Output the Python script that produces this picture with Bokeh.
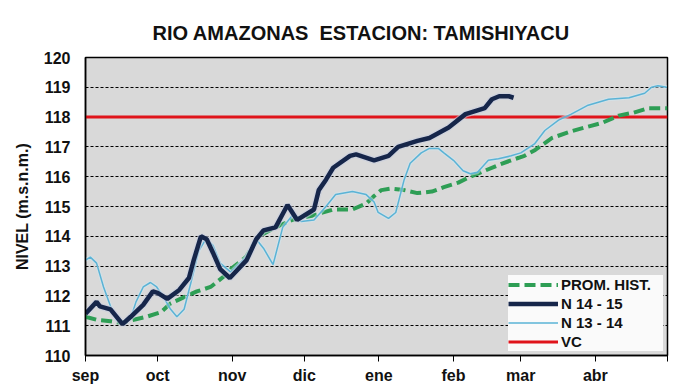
from bokeh.plotting import figure
from bokeh.models import FixedTicker, Legend, LegendItem, Range1d
from bokeh.embed import file_html
from bokeh.resources import INLINE

# ---- data (x = days since 1 Sep) ----
title_text = "RIO AMAZONAS\u00a0 ESTACION: TAMISHIYACU"
month_ticks = [0, 30, 61, 91, 122, 153, 181, 212, 242]
month_labels = ["sep", "oct", "nov", "dic", "ene", "feb", "mar", "abr", ""]

prom_days = [0, 4.6, 10.4, 14.6, 20, 25.4, 31.3, 35.4, 40.8, 46.3, 52, 57.5, 60.4, 66.7, 72, 79, 86,
             94.6, 103, 111, 116.7, 120, 123, 127, 132.5, 138, 144, 149, 155, 160, 166, 172, 177,
             182.5, 187, 194, 201, 207.5, 214.6, 221.7, 228, 234, 242]
prom_vals = [111.3, 111.2, 111.15, 111.1, 111.2, 111.3, 111.45, 111.75, 111.95, 112.15, 112.3, 112.65,
             112.9, 113.3, 114.0, 114.3, 114.55, 114.7, 114.9, 114.9, 115.1, 115.35, 115.55, 115.6,
             115.55, 115.45, 115.5, 115.65, 115.8, 116.0, 116.2, 116.4, 116.55, 116.7, 116.9, 117.3,
             117.5, 117.65, 117.8, 118.05, 118.15, 118.3, 118.3]

n1415_days = [0, 4.6, 6, 10.4, 15.4, 18.8, 24, 28, 30, 34, 39, 43, 45, 48, 50.4, 53, 56, 60, 67, 71,
              74, 79, 84, 88, 95, 97, 100, 103, 110, 112.5, 120, 126, 130, 138, 143, 151, 158, 166,
              169, 172, 176, 178]
n1415_vals = [111.4, 111.8, 111.65, 111.55, 111.05, 111.3, 111.7, 112.15, 112.1, 111.9, 112.2, 112.6,
              113.2, 114.0, 113.9, 113.45, 112.9, 112.6, 113.2, 113.9, 114.2, 114.3, 115.05, 114.55,
              114.9, 115.55, 115.9, 116.3, 116.7, 116.75, 116.55, 116.7, 117.0, 117.2, 117.3, 117.65,
              118.1, 118.3, 118.6, 118.7, 118.7, 118.65]

n1314_days = [0, 2, 4.6, 7.5, 10.4, 13, 16, 19, 21, 24, 27, 29.6, 32.5, 35.4, 38, 41, 44, 47, 50, 53,
              56, 60.4, 66.7, 71, 74, 78, 82, 86, 89.6, 95, 100, 104, 111, 116.7, 120, 121.7, 126,
              129, 132.5, 135, 139.6, 143, 146.7, 149, 153, 157, 160, 163, 167.5, 171.7, 177, 181,
              186.7, 191, 196.7, 202, 209, 217.5, 226, 232.5, 235.4, 238, 241.7]
n1314_vals = [113.2, 113.3, 113.1, 112.3, 111.65, 111.2, 111.1, 111.3, 111.8, 112.3, 112.45, 112.3,
              111.95, 111.55, 111.3, 111.55, 112.5, 113.5, 113.9, 113.7, 113.1, 112.8, 113.3, 113.9,
              113.6, 113.05, 114.3, 114.7, 114.5, 114.55, 115.0, 115.4, 115.5, 115.4, 115.15, 114.8,
              114.6, 114.8, 115.9, 116.45, 116.8, 116.95, 116.95, 116.8, 116.55, 116.2, 116.1, 116.15,
              116.55, 116.6, 116.7, 116.8, 117.1, 117.55, 117.9, 118.1, 118.4, 118.6, 118.65, 118.8,
              119.0, 119.05, 119.0]

vc_days = [0, 242]
vc_vals = [118, 118]

y_ticks = [110, 111, 112, 113, 114, 115, 116, 117, 118, 119, 120]

FONT = "Liberation Sans"

p = figure(width=670, height=386, output_backend="svg", toolbar_location=None,
           x_range=Range1d(0, 242), y_range=Range1d(110, 120),
           min_border_left=85, min_border_right=3, min_border_top=57, min_border_bottom=30,
           title=title_text)

p.title.align = "left"
p.title.offset = 67
p.title.vertical_align = "top"
p.title.standoff = 24
p.title.text_font = FONT
p.title.text_font_size = "20px"
p.title.text_font_style = "bold"
p.title.text_color = "#111111"

p.background_fill_color = "#d9d9d9"
p.border_fill_color = "white"
p.outline_line_color = "black"
p.outline_line_width = 1.5

p.xgrid.grid_line_color = None
p.ygrid.ticker = FixedTicker(ticks=y_ticks)
p.ygrid.grid_line_color = "black"
p.ygrid.grid_line_dash = "3 2"
p.ygrid.grid_line_width = 1

p.xaxis.ticker = FixedTicker(ticks=month_ticks)
p.xaxis.major_label_overrides = {t: l for t, l in zip(month_ticks, month_labels)}
p.xaxis.minor_tick_line_color = None
p.xaxis.major_tick_in = 0
p.xaxis.major_tick_out = 6
p.xaxis.major_label_standoff = 5
p.yaxis.ticker = FixedTicker(ticks=y_ticks)
p.yaxis.minor_tick_line_color = None
p.yaxis.major_tick_in = 0
p.yaxis.major_tick_out = 0
p.yaxis.major_label_standoff = 15
p.yaxis.axis_label = "NIVEL (m.s.n.m.)"
p.yaxis.axis_label_standoff = 10
for ax in (p.xaxis, p.yaxis):
    ax.axis_line_color = "black"
    ax.axis_line_width = 1.5
    ax.major_tick_line_color = "black"
    ax.major_label_text_font = FONT
    ax.major_label_text_font_size = "16px"
    ax.major_label_text_font_style = "bold"
    ax.major_label_text_color = "#111111"
    ax.axis_label_text_font = FONT
    ax.axis_label_text_font_size = "16px"
    ax.axis_label_text_font_style = "bold"
    ax.axis_label_text_color = "#111111"

r_vc = p.line(vc_days, vc_vals, line_color="#e0141b", line_width=3)
r_prom = p.line(prom_days, prom_vals, line_color="#2e9e55", line_width=4, line_dash="11 5")
p.line(n1314_days, n1314_vals, line_color="#cfe8f2", line_width=4, line_alpha=0.5)
r_1314 = p.line(n1314_days, n1314_vals, line_color="#5ab3d6", line_width=1.5)
p.line(n1415_days, n1415_vals, line_color="#c6cde0", line_width=7, line_alpha=0.6)
r_1415 = p.line(n1415_days, n1415_vals, line_color="#16264a", line_width=4.5)

legend = Legend(items=[
    LegendItem(label="PROM. HIST.", renderers=[r_prom]),
    LegendItem(label="N 14 - 15", renderers=[r_1415]),
    LegendItem(label="N 13 - 14", renderers=[r_1314]),
    LegendItem(label="VC", renderers=[r_vc]),
], location="bottom_right")
legend.background_fill_color = "#fafafa"
legend.background_fill_alpha = 1
legend.border_line_color = None
legend.label_text_font = FONT
legend.label_text_font_size = "15px"
legend.label_text_font_style = "bold"
legend.label_text_color = "#111111"
legend.glyph_width = 50
legend.glyph_height = 19
legend.label_height = 19
legend.label_width = 102
legend.spacing = 0
legend.padding = 6
legend.label_standoff = 3
legend.margin = 4
p.add_layout(legend)

open("out.html", "w").write(file_html(p, INLINE))
